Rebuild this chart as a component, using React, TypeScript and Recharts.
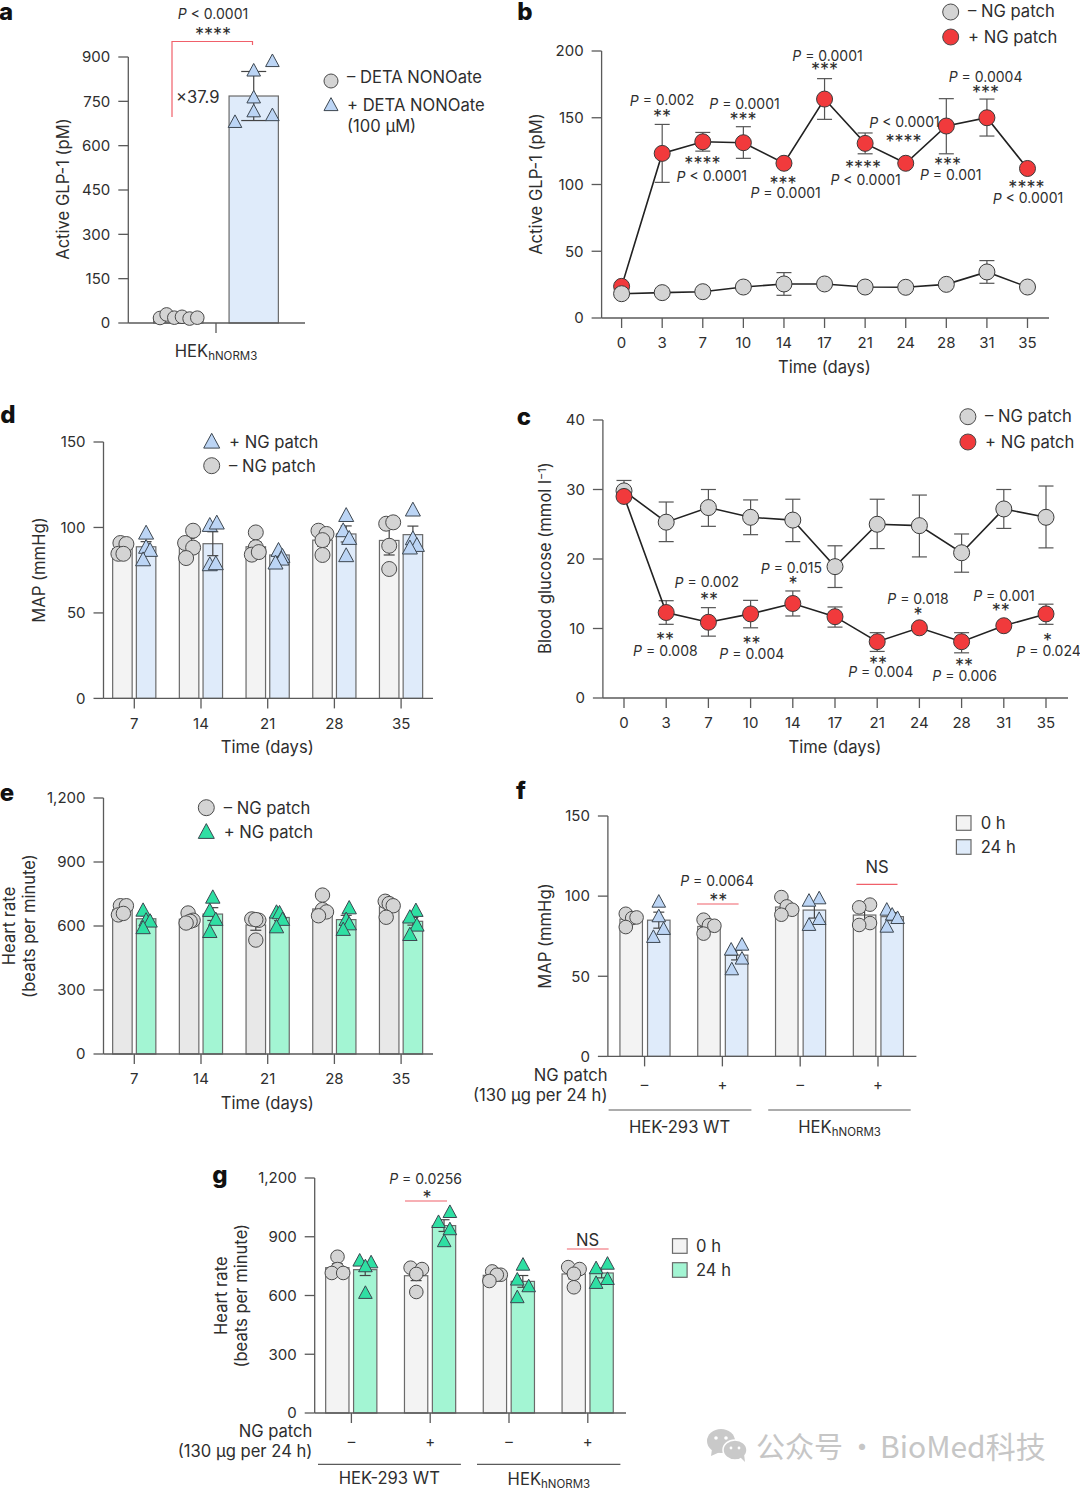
import React from 'react'
import { ComposedChart, Bar, Line, Scatter, XAxis, YAxis, ErrorBar } from 'recharts'

const FONT = 'Inter, "Noto Sans", sans-serif'
const INK = '#2e2e2e'
const AXIS = '#5a5a5a'
const RED = '#f13a3c'
const GREY = '#d4d4d4'
const PALE = '#f3f3f3'
const PALE_GREY = '#e8e8e8'
const BLUE_BAR = '#dfebfa'
const BLUE_MARK = '#bcd5f5'
const GREEN_BAR = '#a3f5d3'
const GREEN_MARK = '#2fdfa3'
const LINK = '#f0606a'

// a: GLP-1 with and without DETA NONOate
const aMinusBars = [20]
const aMinusErr = [3]
const aMinusPoints = [[17, 29, 18, 21, 15, 18]]
const aMinusJitter = [[-18.3, -11.7, -4, 3.7, 11.3, 19]]
const aPlusBars = [768]
const aPlusErr = [83]
const aPlusPoints = [[886, 854, 763, 716, 703, 680]]
const aPlusJitter = [[18.7, 0, 0, 0, 18.7, -18.7]]

// b: GLP-1 time course
const dayLabels = ['0', '3', '7', '10', '14', '17', '21', '24', '28', '31', '35']
const bGrey = [18.2, 19, 19.7, 23.2, 25.5, 25.5, 23.2, 23, 25.2, 34.5, 23.2]
const bGreyHigh = [18.7, 19.5, 20.2, 23.7, 34, 26, 23.7, 23.5, 25.7, 43, 23.7]
const bGreyLow = [17.7, 18.5, 19.2, 22.7, 17, 25, 22.7, 22.5, 24.7, 26, 22.7]
const bRed = [23.7, 123.3, 132, 131.3, 115.9, 164, 130.8, 115.9, 143.8, 150, 112]
const bRedHigh = [24.2, 145, 139, 143.3, 116.4, 179.3, 138.6, 116.4, 164.3, 164, 112.5]
const bRedLow = [23.2, 101.6, 125, 119.6, 115.4, 148.8, 123, 115.4, 123, 136.3, 111.5]

// c: blood glucose time course
const cGrey = [29.8, 25.3, 27.4, 26, 25.6, 18.9, 25, 24.8, 20.9, 27.2, 26]
const cGreyHigh = [31.3, 28.2, 30, 28.5, 28.6, 21.9, 28.6, 29.2, 23.6, 30, 30.5]
const cGreyLow = [29, 22.5, 24.7, 23.5, 22.5, 15.9, 21.5, 20.3, 18.1, 24.4, 21.6]
const cRed = [29, 12.3, 10.9, 12.1, 13.6, 11.7, 8.1, 10.1, 8.1, 10.4, 12.1]
const cRedHigh = [29.1, 14, 13, 14.05, 15.4, 13.1, 9.4, 10.2, 9.4, 10.5, 13.5]
const cRedLow = [28.9, 10.6, 8.9, 10.1, 11.8, 10.2, 6.7, 10, 6.5, 10.3, 10.6]

// d: MAP by week
const weekLabels = ['7', '14', '21', '28', '35']
const dMinusBars = [87.6, 91, 88.7, 92.6, 92.4]
const dMinusErr = [2, 2.5, 3, 3.5, 8.5]
const dMinusPoints = [[90.9, 90.3, 84.6, 84.6], [98.1, 90.9, 88.2, 82.1], [97.1, 88.4, 84.1, 85.6], [98.1, 96.2, 92.6, 83.9], [102.2, 103, 89.3, 75.7]]
const dMinusJitter = [[-2, 4, -4, 1], [4, -4, 4, -3], [0, 0, -4, 3], [-4, 4, 0, 0], [-3, 4, 0, 0]]
const dPlusBars = [88.7, 90.5, 83.9, 96.2, 95.8]
const dPlusErr = [3, 7, 1.5, 4.7, 5]
const dPlusPoints = [[96.7, 88.4, 86.6, 81.1], [101.2, 102.6, 78.2, 78.8], [86.6, 83.1, 81.5, 79.2], [107, 98.1, 93.6, 83.5], [110.2, 93.4, 89.5, 88]]
const dPlusJitter = [[0, 0, 4, -3], [-3, 4, -3, 3], [-1, 3, 2, -4], [0, -3, 3, 0], [0, 0, 4, -3]]

// e: heart rate by week
const eMinusBars = [676, 632, 605, 680, 690]
const eMinusErr = [12, 10, 25, 20, 15]
const eMinusPoints = [[695, 695, 652, 659], [661, 627, 622, 614], [633, 627, 630, 534], [745, 677, 666, 648], [716, 705, 695, 641]]
const eMinusJitter = [[-2, 4, -4, 1], [-1, 4, 1, -3], [-4, 3, 0, 0], [0, 0, 4, -4], [-4, 0, 4, -3]]
const ePlusBars = [634, 656, 640, 630, 622]
const ePlusErr = [14, 30, 15, 20, 18]
const ePlusPoints = [[673, 627, 622, 591], [734, 672, 630, 573], [664, 661, 630, 595], [684, 630, 609, 583], [672, 641, 603, 559]]
const ePlusJitter = [[-3, 0, 4, -3], [0, -3, 3, -3], [-3, 0, 3, -3], [3, 0, 3, -3], [3, -3, 4, -3]]

// f: MAP at 0 h and 24 h
const patchLabels = ['–', '+', '–', '+']
const fZeroBars = [85.7, 81.1, 93.2, 88.2]
const fZeroErr = [2, 2, 3, 3.5]
const fZeroPoints = [[89, 86.3, 86.7, 80.7], [85.3, 81.8, 81.5, 76.6], [99.4, 93.6, 91.5, 88.4], [94.7, 93, 83.2, 82]]
const fZeroJitter = [[-5.4, 1, 5.4, -5.4], [-5.4, 0, 5.4, -5.4], [-5.4, 0, 5.4, -5.4], [5.4, -5.4, 5.4, -5.4]]
const fDayBars = [85, 63.2, 91.3, 87.2]
const fDayErr = [5, 3, 5, 2.5]
const fDayPoints = [[96.5, 87.4, 79.5, 74.5], [69.7, 66.6, 61, 54.3], [98.6, 97.1, 85.7, 82], [91.5, 88.4, 86.3, 80.9]]
const fDayJitter = [[0, 0, 4.8, -5.4], [5.4, -5.4, 5.4, -4.8], [4.8, -5.4, 4.8, -5.4], [-5.4, 0, 5.4, -5.4]]

// g: heart rate at 0 h and 24 h
const gZeroBars = [742, 701, 703, 710]
const gZeroErr = [20, 25, 8, 25]
const gZeroPoints = [[798, 735, 715, 715], [742, 735, 710, 618], [723, 706, 706, 674], [745, 735, 711, 642]]
const gZeroJitter = [[0, 0, -5.7, 5.7], [-5.7, 5.7, 0, 0], [-2.9, 5.7, 1.7, -5.7], [-5.7, 5.7, 0, 0]]
const gDayBars = [732, 957, 672, 715]
const gDayErr = [30, 30, 30, 25]
const gDayPoints = [[778, 769, 749, 613], [1026, 975, 938, 877], [757, 681, 647, 591], [762, 739, 684, 664]]
const gDayJitter = [[-5.7, 5.7, 0, 0], [5.7, -5.7, 5.7, 0], [0, -5.7, 5.7, -5.7], [5.7, -5.7, 5.7, -5.7]]

type Plot = { left: number; right: number; top: number; bottom: number; x0: number; step: number; barWidth: number; capHalf: number; markR: number; max: number; yTicks: number[]; labelGap: number }
type Series = { bars: number[]; err: number[]; points: number[][]; jitter: number[][]; offset: number; fill: string; mark: 'circle' | 'triangle'; markFill: string }

const plotA: Plot = { left: 128.3, right: 305, top: 56.7, bottom: 322.7, x0: 216, step: 100, barWidth: 49.3, capHalf: 12.5, markR: 6.8, max: 900, yTicks: [0, 150, 300, 450, 600, 750, 900], labelGap: 10 }
const plotB: Plot = { left: 601.6, right: 1049, top: 50.7, bottom: 317.7, x0: 621.6, step: 40.59, barWidth: 0, capHalf: 7.5, markR: 8, max: 200, yTicks: [0, 50, 100, 150, 200], labelGap: 9 }
const plotC: Plot = { left: 602.9, right: 1068, top: 419.7, bottom: 697.7, x0: 624, step: 42.2, barWidth: 0, capHalf: 7.5, markR: 8, max: 40, yTicks: [0, 10, 20, 30, 40], labelGap: 9.5 }
const plotD: Plot = { left: 103.5, right: 433, top: 442.3, bottom: 698.7, x0: 134.3, step: 66.7, barWidth: 19.5, capHalf: 5.5, markR: 7.5, max: 150, yTicks: [0, 50, 100, 150], labelGap: 9.5 }
const plotE: Plot = { left: 103.5, right: 433, top: 798.3, bottom: 1054.3, x0: 134.3, step: 66.7, barWidth: 19.5, capHalf: 5.5, markR: 7.2, max: 1200, yTicks: [0, 300, 600, 900, 1200], labelGap: 9.5 }
const plotF: Plot = { left: 607.9, right: 916.4, top: 816.3, bottom: 1056.7, x0: 644.6, step: 77.8, barWidth: 22.5, capHalf: 5.5, markR: 6.8, max: 150, yTicks: [0, 50, 100, 150], labelGap: 13 }
const plotG: Plot = { left: 314.7, right: 626, top: 1178.3, bottom: 1413.3, x0: 351.4, step: 78.8, barWidth: 23.3, capHalf: 5.5, markR: 6.8, max: 1200, yTicks: [0, 300, 600, 900, 1200], labelGap: 13 }

function Marker({ cx, cy, mark, fill, r = 8 }: { cx: number; cy: number; mark: string; fill: string; r?: number }) {
  if (mark === 'triangle') {
    return <polygon points={`${cx},${cy - r * 1.05} ${cx + r},${cy + r * 0.8} ${cx - r},${cy + r * 0.8}`} fill={fill} stroke="#3c4650" strokeWidth={1} strokeLinejoin="round" />
  }
  return <circle cx={cx} cy={cy} r={r} fill={fill} stroke="#4a4a4a" strokeWidth={1} />
}

const axisProps = {
  stroke: AXIS,
  axisLine: { stroke: AXIS, strokeWidth: 1.3 },
  tickLine: { stroke: AXIS, strokeWidth: 1.3 },
  tickSize: 10,
}

const textStyle = { fontSize: 15, fill: INK, fontFamily: FONT }
const thousands = (v: number) => v.toLocaleString('en-US')

function frame(plot: Plot) {
  return {
    style: { position: 'absolute' as const, left: 0, top: plot.top - 20 },
    width: plot.right + 10,
    height: plot.bottom - plot.top + 60,
    margin: { top: 20, left: 0, right: 10, bottom: 0 },
  }
}

function xDomain(plot: Plot): [number, number] {
  return [(plot.left - plot.x0) / plot.step, (plot.right - plot.x0) / plot.step]
}

function BarPanel({ plot, series, labels }: { plot: Plot; series: Series[]; labels: string[] }) {
  const rows = series.flatMap(s => s.bars.map((value, i) => ({
    x: i + s.offset / plot.step,
    value,
    err: s.err[i],
    fill: s.fill,
  })))
  const dots = series.map(s => s.points.flatMap((vals, i) => vals.map((y, j) => ({
    x: i + (s.offset + s.jitter[i][j]) / plot.step,
    y,
  }))))
  const f = frame(plot)
  return (
    <div style={f.style}>
      <ComposedChart width={f.width} height={f.height} margin={f.margin} data={rows}>
        <XAxis
          {...axisProps}
          type="number"
          dataKey="x"
          domain={xDomain(plot)}
          allowDataOverflow
          ticks={labels.map((_, i) => i)}
          interval={0}
          tickFormatter={v => labels[v] ?? ''}
          tick={textStyle}
          tickMargin={plot.labelGap}
          height={40}
        />
        <YAxis
          {...axisProps}
          type="number"
          domain={[0, plot.max]}
          ticks={plot.yTicks}
          interval={0}
          tickFormatter={thousands}
          tick={textStyle}
          tickMargin={8}
          width={plot.left}
        />
        <Bar
          dataKey="value"
          isAnimationActive={false}
          shape={(p: any) => (
            // a numeric axis squeezes the band, so the bar is widened about its own centre
            <rect
              x={p.x + p.width / 2 - plot.barWidth / 2}
              y={p.y}
              width={plot.barWidth}
              height={p.height}
              fill={p.payload.fill}
              stroke="#6a6a6a"
              strokeWidth={1.2}
            />
          )}
        >
          <ErrorBar dataKey="err" width={plot.capHalf} stroke="#444" strokeWidth={1.2} isAnimationActive={false} />
        </Bar>
        {series.map((s, i) => (
          <Scatter
            key={i}
            data={dots[i]}
            dataKey="y"
            isAnimationActive={false}
            shape={(p: any) => <Marker cx={p.cx} cy={p.cy} mark={s.mark} fill={s.markFill} r={plot.markR} />}
          />
        ))}
      </ComposedChart>
    </div>
  )
}

function LinePanel({ plot, grey, greyHigh, greyLow, red, redHigh, redLow, redOnTop }: {
  plot: Plot; grey: number[]; greyHigh: number[]; greyLow: number[]; red: number[]; redHigh: number[]; redLow: number[]; redOnTop: boolean
}) {
  const rows = dayLabels.map((_, i) => ({
    x: i,
    grey: grey[i],
    greyErr: [grey[i] - greyLow[i], greyHigh[i] - grey[i]],
    red: red[i],
    redErr: [red[i] - redLow[i], redHigh[i] - red[i]],
  }))
  const f = frame(plot)
  const dot = (fill: string) => ({ r: plot.markR, fill, stroke: '#3a3a3a', strokeWidth: 1 })
  const greyLine = (
    <Line key="grey" dataKey="grey" stroke="#222" strokeWidth={1.6} dot={dot(GREY)} isAnimationActive={false}>
      <ErrorBar dataKey="greyErr" width={plot.capHalf} stroke="#555" strokeWidth={1.2} isAnimationActive={false} />
    </Line>
  )
  const redLine = (
    <Line key="red" dataKey="red" stroke="#222" strokeWidth={1.6} dot={dot(RED)} isAnimationActive={false}>
      <ErrorBar dataKey="redErr" width={plot.capHalf} stroke="#555" strokeWidth={1.2} isAnimationActive={false} />
    </Line>
  )
  return (
    <div style={f.style}>
      <ComposedChart width={f.width} height={f.height} margin={f.margin} data={rows}>
        <XAxis
          {...axisProps}
          type="number"
          dataKey="x"
          domain={xDomain(plot)}
          allowDataOverflow
          ticks={dayLabels.map((_, i) => i)}
          interval={0}
          tickFormatter={v => dayLabels[v] ?? ''}
          tick={textStyle}
          tickMargin={plot.labelGap}
          height={40}
        />
        <YAxis
          {...axisProps}
          type="number"
          domain={[0, plot.max]}
          ticks={plot.yTicks}
          interval={0}
          tick={textStyle}
          tickMargin={8}
          width={plot.left}
        />
        {redOnTop ? greyLine : redLine}
        {redOnTop ? redLine : greyLine}
      </ComposedChart>
    </div>
  )
}

// labels placed on the page: [text, x, y]
const pNotes: [string, number, number][] = [
  ['P < 0.0001', 213, 13],
  ['P = 0.002', 662, 99.7], ['P = 0.0001', 744.5, 103.3], ['P = 0.0001', 827.5, 55], ['P = 0.0004', 985.6, 76],
  ['P < 0.0001', 904.5, 121.7], ['P < 0.0001', 711.8, 175.7], ['P = 0.0001', 785.6, 192], ['P < 0.0001', 865.6, 179],
  ['P = 0.001', 950.7, 174], ['P < 0.0001', 1028, 197.5],
  ['P = 0.015', 791.4, 567.7], ['P = 0.002', 706.8, 581.7], ['P = 0.018', 918, 598.3], ['P = 0.001', 1004, 595.3],
  ['P = 0.008', 665.4, 650], ['P = 0.004', 751.8, 653.3], ['P = 0.004', 880.7, 671.3], ['P = 0.006', 964.6, 675.3], ['P = 0.024', 1048.6, 650.7],
  ['P = 0.0064', 717, 880], ['P = 0.0256', 425.6, 1178],
]
const starNotes: [string, number, number][] = [
  ['****', 213, 31],
  ['**', 662, 113], ['***', 743, 116], ['***', 824.5, 66], ['***', 985.6, 89], ['****', 903.5, 138],
  ['****', 702.4, 160], ['***', 783, 180], ['****', 863, 163.7], ['***', 947.5, 161], ['****', 1026.4, 184],
  ['*', 792.9, 580], ['**', 709, 595.7], ['*', 918, 611], ['**', 1000.7, 607],
  ['**', 665, 636], ['**', 751.4, 639.7], ['**', 877.9, 660], ['**', 964, 662.3], ['*', 1047.5, 637.3],
  ['**', 718.2, 897.3], ['*', 427, 1194],
]
const plainNotes: [string, number, number, 'start' | 'middle' | 'end'][] = [
  ['×37.9', 176, 97, 'start'],
  ['– DETA NONOate', 347, 77, 'start'], ['+ DETA NONOate', 347, 105, 'start'], ['(100 µM)', 347, 126, 'start'],
  ['– NG patch', 968, 11, 'start'], ['+ NG patch', 968, 37, 'start'],
  ['– NG patch', 985, 416, 'start'], ['+ NG patch', 985, 442, 'start'],
  ['+ NG patch', 229, 441.5, 'start'], ['– NG patch', 229, 465.7, 'start'],
  ['– NG patch', 223.7, 807.7, 'start'], ['+ NG patch', 223.7, 832, 'start'],
  ['Time (days)', 824.5, 367, 'middle'], ['Time (days)', 835, 747, 'middle'], ['Time (days)', 267.3, 747, 'middle'], ['Time (days)', 267.3, 1103, 'middle'],
  ['0 h', 980.7, 823, 'start'], ['24 h', 980.7, 847, 'start'], ['0 h', 696, 1246, 'start'], ['24 h', 696, 1270, 'start'],
  ['NS', 877, 866.7, 'middle'], ['NS', 587.5, 1240, 'middle'],
  ['NG patch', 607.5, 1075, 'end'], ['(130 µg per 24 h)', 607.5, 1095, 'end'],
  ['NG patch', 312.4, 1430.7, 'end'], ['(130 µg per 24 h)', 312.4, 1451, 'end'],
  ['HEK-293 WT', 679.6, 1127.3, 'middle'], ['HEK-293 WT', 389.3, 1478.3, 'middle'],
]
const yTitles: [string, number, number][] = [
  ['Active GLP-1 (pM)', 63, 189], ['Active GLP-1 (pM)', 536, 184], ['MAP (mmHg)', 39, 570],
  ['Heart rate', 9.3, 926], ['(beats per minute)', 29.3, 926], ['MAP (mmHg)', 545, 936],
  ['Heart rate', 220.9, 1295.7], ['(beats per minute)', 240.8, 1295.7],
]
const panelLetters: [string, number, number][] = [['a', 6, 11], ['b', 525, 11], ['d', 8, 414], ['c', 524, 416], ['e', 7, 792], ['f', 521, 790], ['g', 220, 1174]]
const hekNotes: [number, number][] = [[216, 351], [839.6, 1127], [548.9, 1479]]
const redRules: [number, number, number, number][] = [[697, 904, 738.6, 904], [856.4, 884.3, 897.5, 884.3], [405, 1201, 447, 1201], [566.9, 1249, 608.6, 1249]]
const groupRules: [number, number, number, number][] = [[608.6, 1110, 751.4, 1110], [768.2, 1110, 910.7, 1110], [318, 1464.3, 460.9, 1464.3], [477, 1464.3, 620.4, 1464.3]]

function Overlay() {
  const base = { fontFamily: FONT, fill: INK, dominantBaseline: 'central' as const }
  const cjk = '"Noto Sans CJK SC", sans-serif'
  return (
    <svg width={1080} height={1490} style={{ position: 'absolute', left: 0, top: 0, pointerEvents: 'none' }}>
      {panelLetters.map(([t, x, y]) => (
        <text key={t} x={x} y={y} textAnchor="middle" {...base} fill="#111" fontSize={24} fontWeight={800}>{t}</text>
      ))}
      {pNotes.map(([t, x, y], i) => (
        <text key={i} x={x} y={y} textAnchor="middle" {...base} fontSize={14}>
          <tspan fontStyle="italic">P</tspan>{t.slice(1)}
        </text>
      ))}
      {starNotes.map(([t, x, y], i) => (
        <text key={i} x={x} y={y + 3.5} textAnchor="middle" {...base} fontSize={18}>{t}</text>
      ))}
      {plainNotes.map(([t, x, y, anchor], i) => (
        <text key={i} x={x} y={y} textAnchor={anchor} {...base} fontSize={16.6}>{t}</text>
      ))}
      {yTitles.map(([t, x, y], i) => (
        <text key={i} x={x} y={y} textAnchor="middle" {...base} fontSize={16.6} transform={`rotate(-90 ${x} ${y})`}>{t}</text>
      ))}
      <text x={545} y={558} textAnchor="middle" fontFamily={FONT} fill={INK} fontSize={16.6} transform="rotate(-90 545 558)" dy={6}>
        Blood glucose (mmol l<tspan fontSize={11} dy={-5}>−1</tspan><tspan dy={5}>)</tspan>
      </text>
      {hekNotes.map(([x, y], i) => (
        <text key={i} x={x} y={y} textAnchor="middle" {...base} fontSize={16.6}>
          HEK<tspan fontSize={11.5} dy={5}>hNORM3</tspan>
        </text>
      ))}
      {redRules.map(([x1, y1, x2, y2], i) => <line key={i} x1={x1} y1={y1} x2={x2} y2={y2} stroke={LINK} strokeWidth={1.2} />)}
      {groupRules.map(([x1, y1, x2, y2], i) => <line key={i} x1={x1} y1={y1} x2={x2} y2={y2} stroke={AXIS} strokeWidth={1.2} />)}
      <polyline points="172,117 172,41.5 252.5,41.5 252.5,45" fill="none" stroke={LINK} strokeWidth={1.2} />

      <Marker cx={331} cy={81} mark="circle" fill={GREY} r={7} />
      <Marker cx={331} cy={105} mark="triangle" fill={BLUE_MARK} r={7} />
      <Marker cx={950.7} cy={12} mark="circle" fill={GREY} />
      <Marker cx={950.7} cy={37} mark="circle" fill={RED} />
      <Marker cx={967.9} cy={416.7} mark="circle" fill={GREY} />
      <Marker cx={967.9} cy={442} mark="circle" fill={RED} />
      <Marker cx={211.7} cy={441.7} mark="triangle" fill={BLUE_MARK} />
      <Marker cx={211.7} cy={465.7} mark="circle" fill={GREY} />
      <Marker cx={206.3} cy={807.7} mark="circle" fill={GREY} />
      <Marker cx={206.3} cy={832} mark="triangle" fill={GREEN_MARK} />
      <rect x={956.4} y={815.7} width={14.6} height={14.6} fill={PALE} stroke="#6a6a6a" strokeWidth={1.2} />
      <rect x={956.4} y={839.7} width={14.6} height={14.6} fill={BLUE_BAR} stroke="#6a6a6a" strokeWidth={1.2} />
      <rect x={672.5} y={1238.7} width={14.6} height={14.6} fill={PALE} stroke="#6a6a6a" strokeWidth={1.2} />
      <rect x={672.5} y={1262.7} width={14.6} height={14.6} fill={GREEN_BAR} stroke="#6a6a6a" strokeWidth={1.2} />

      <ellipse cx={721} cy={1441} rx={14} ry={12} fill="#c9c9c9" />
      <polygon points="712,1449 711,1456 720,1452" fill="#c9c9c9" />
      <ellipse cx={735} cy={1450} rx={12} ry={10} fill="#c9c9c9" stroke="#fff" strokeWidth={1.5} />
      <polygon points="740,1457 745,1462 744,1454" fill="#c9c9c9" />
      <circle cx={716} cy={1438} r={1.8} fill="#fff" />
      <circle cx={726} cy={1438} r={1.8} fill="#fff" />
      <circle cx={731} cy={1448} r={1.4} fill="#fff" />
      <circle cx={739} cy={1448} r={1.4} fill="#fff" />
      <text x={756} y={1445} dominantBaseline="central" fontFamily={cjk} fontSize={29} fill="#c6c6c6">公众号</text>
      <text x={862} y={1445} dominantBaseline="central" textAnchor="middle" fontFamily={cjk} fontSize={29} fill="#c6c6c6">·</text>
      <text x={880} y={1445} dominantBaseline="central" fontFamily={cjk} fontSize={30} fill="#c6c6c6">BioMed科技</text>
    </svg>
  )
}

export default function App() {
  return (
    <div style={{ position: 'absolute', left: 0, top: 0, width: 1080, height: 1490, background: '#fff', overflow: 'hidden' }}>
      <BarPanel
        plot={plotA}
        labels={['']}
        series={[
          { bars: aMinusBars, err: aMinusErr, points: aMinusPoints, jitter: aMinusJitter, offset: -37.7, fill: PALE_GREY, mark: 'circle', markFill: GREY },
          { bars: aPlusBars, err: aPlusErr, points: aPlusPoints, jitter: aPlusJitter, offset: 37.7, fill: BLUE_BAR, mark: 'triangle', markFill: BLUE_MARK },
        ]}
      />
      <LinePanel plot={plotB} grey={bGrey} greyHigh={bGreyHigh} greyLow={bGreyLow} red={bRed} redHigh={bRedHigh} redLow={bRedLow} redOnTop={false} />
      <LinePanel plot={plotC} grey={cGrey} greyHigh={cGreyHigh} greyLow={cGreyLow} red={cRed} redHigh={cRedHigh} redLow={cRedLow} redOnTop />
      <BarPanel
        plot={plotD}
        labels={weekLabels}
        series={[
          { bars: dMinusBars, err: dMinusErr, points: dMinusPoints, jitter: dMinusJitter, offset: -11.9, fill: PALE, mark: 'circle', markFill: GREY },
          { bars: dPlusBars, err: dPlusErr, points: dPlusPoints, jitter: dPlusJitter, offset: 11.8, fill: BLUE_BAR, mark: 'triangle', markFill: BLUE_MARK },
        ]}
      />
      <BarPanel
        plot={plotE}
        labels={weekLabels}
        series={[
          { bars: eMinusBars, err: eMinusErr, points: eMinusPoints, jitter: eMinusJitter, offset: -11.9, fill: PALE_GREY, mark: 'circle', markFill: GREY },
          { bars: ePlusBars, err: ePlusErr, points: ePlusPoints, jitter: ePlusJitter, offset: 11.8, fill: GREEN_BAR, mark: 'triangle', markFill: GREEN_MARK },
        ]}
      />
      <BarPanel
        plot={plotF}
        labels={patchLabels}
        series={[
          { bars: fZeroBars, err: fZeroErr, points: fZeroPoints, jitter: fZeroJitter, offset: -13.4, fill: PALE, mark: 'circle', markFill: GREY },
          { bars: fDayBars, err: fDayErr, points: fDayPoints, jitter: fDayJitter, offset: 14.2, fill: BLUE_BAR, mark: 'triangle', markFill: BLUE_MARK },
        ]}
      />
      <BarPanel
        plot={plotG}
        labels={patchLabels}
        series={[
          { bars: gZeroBars, err: gZeroErr, points: gZeroPoints, jitter: gZeroJitter, offset: -13.9, fill: PALE, mark: 'circle', markFill: GREY },
          { bars: gDayBars, err: gDayErr, points: gDayPoints, jitter: gDayJitter, offset: 14, fill: GREEN_BAR, mark: 'triangle', markFill: GREEN_MARK },
        ]}
      />
      <Overlay />
    </div>
  )
}
